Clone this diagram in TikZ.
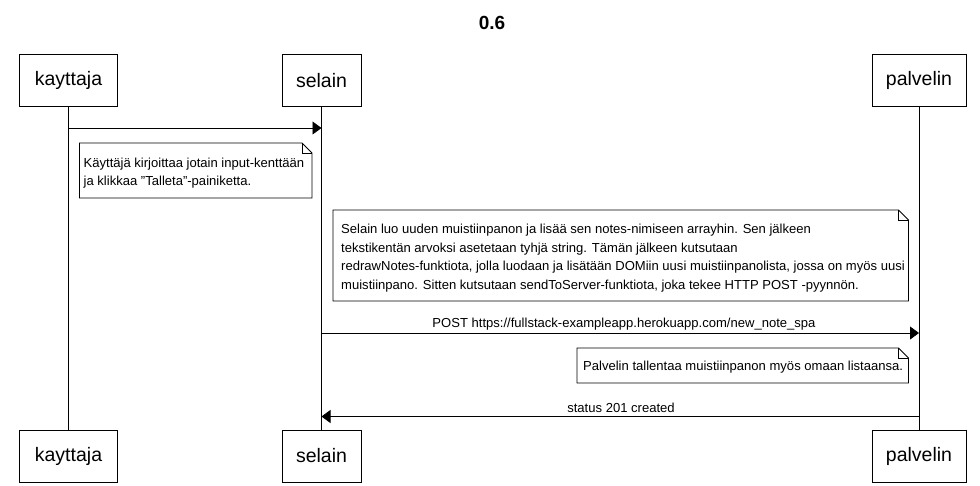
\documentclass[tikz,border=0pt]{standalone}
\usepackage{fontspec}
\setmainfont{Liberation Sans}
\usetikzlibrary{arrows.meta}
\begin{document}
\begin{tikzpicture}[x=1pt,y=-1pt,
  actor/.style={draw,line width=0.8pt,minimum width=#1,minimum height=52pt,inner sep=0pt,font=\fontsize{19.5}{23}\selectfont},
  life/.style={line width=0.8pt},
  msg/.style={line width=0.8pt,-{Triangle[length=9pt,width=13pt]}},
  notetxt/.style={anchor=base west,inner sep=0pt,font=\fontsize{13.05}{15}\selectfont},
  lbl/.style={anchor=base,inner sep=0pt,font=\fontsize{13.05}{15}\selectfont},
  notebox/.style={line width=0.8pt,fill=white}]
\useasboundingbox (0,0) rectangle (980,485);
\fill[white] (0,0) rectangle (980,485);
\node[anchor=base,inner sep=0pt,font=\bfseries\fontsize{19}{22}\selectfont] (title) at (492,29) {0.6};
% actors
\node[actor=98pt] (k1) at (68.5,80.3) {kayttaja};
\node[actor=79pt] (s1) at (321.5,80.3) {selain};
\node[actor=94pt] (p1) at (919,80.3) {palvelin};
\node[actor=98pt] (k2) at (68.5,456) {kayttaja};
\node[actor=79pt] (s2) at (321.5,456) {selain};
\node[actor=94pt] (p2) at (919,456) {palvelin};
\draw[life] (k1.south) -- (k2.north);
\draw[life] (s1.south) -- (s2.north);
\draw[life] (p1.south) -- (p2.north);
% coordinates on lifelines
\coordinate (a1) at (k1.south |- 0,128);
\coordinate (b1) at (s1.south |- 0,128);
\coordinate (a2) at (s1.south |- 0,333);
\coordinate (b2) at (p1.south |- 0,333);
\coordinate (a3) at (p1.south |- 0,416.5);
\coordinate (b3) at (s1.south |- 0,416.5);
\draw[msg] (a1) -- (b1);
\draw[msg] (a2) -- (b2);
\node[lbl] (l2) at (624,327) {POST https://fullstack-exampleapp.herokuapp.com/new\_note\_spa};
\draw[msg] (a3) -- (b3);
\node[lbl] (l3) at (621,412) {status 201 created};
% notes
\newcommand{\mynotebox}[4]{%
  \draw[notebox] (#1,#2) -- (#3-10,#2) -- (#3,#2+10) -- (#3,#4) -- (#1,#4) -- cycle;
  \draw[line width=0.8pt] (#3-10,#2) -- (#3-10,#2+10) -- (#3,#2+10);}
\mynotebox{79.5}{143}{312}{198}
\node[notetxt] (n1a) at (83.5,167) {Käyttäjä kirjoittaa jotain input-kenttään};
\node[notetxt] (n1b) at (83.5,185.5) {ja klikkaa \char34 Talleta\char34 -painiketta.};
\mynotebox{333}{210}{908.5}{301}
\node[notetxt] (n2a) at (341,233.5) {Selain luo uuden muistiinpanon ja lisää sen notes-nimiseen arrayhin. Sen jälkeen};
\node[notetxt] (n2b) at (341,252) {tekstikentän arvoksi asetetaan tyhjä string. Tämän jälkeen kutsutaan};
\node[notetxt] (n2c) at (341,270.5) {redrawNotes-funktiota, jolla luodaan ja lisätään DOMiin uusi muistiinpanolista, jossa on myös uusi};
\node[notetxt] (n2d) at (341,289) {muistiinpano. Sitten kutsutaan sendToServer-funktiota, joka tekee HTTP POST -pyynnön.};
\mynotebox{577}{348}{908.5}{383}
\node[notetxt] (n3) at (583,370) {Palvelin tallentaa muistiinpanon myös omaan listaansa.};
\end{tikzpicture}
\end{document}
